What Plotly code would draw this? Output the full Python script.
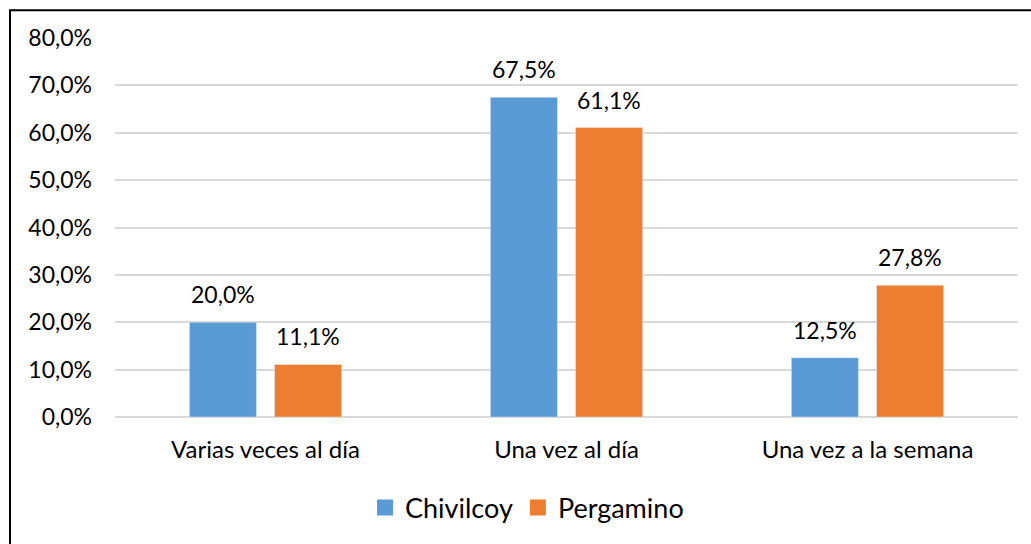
import plotly.graph_objects as go

categories = ["Varias veces al día", "Una vez al día", "Una vez a la semana"]
chivilcoy = [0.200, 0.675, 0.125]
pergamino = [0.111, 0.611, 0.278]
series_names = ["Chivilcoy", "Pergamino"]
y_ticks = [0, 0.1, 0.2, 0.3, 0.4, 0.5, 0.6, 0.7, 0.8]

BLUE = "#5B9BD5"
ORANGE = "#ED7D31"
GRID = "#D9D9D9"
FONT = "Lato"

fig = go.Figure()
for name, vals, color in ((series_names[0], chivilcoy, BLUE), (series_names[1], pergamino, ORANGE)):
    fig.add_trace(go.Bar(name=name, x=categories, y=vals, marker_color=color,
                         showlegend=False))

# legend entries with bigger square keys
for name, color in ((series_names[0], BLUE), (series_names[1], ORANGE)):
    fig.add_trace(go.Scatter(name=name, x=[None], y=[None], mode="markers",
                             marker=dict(symbol="square", size=17, color=color)))

# data labels above the bars
for vals, shift in ((chivilcoy, -42.5), (pergamino, 42.5)):
    for cat, v in zip(categories, vals):
        fig.add_annotation(
            x=cat, y=v, xref="x", yref="y",
            text=f"{v * 100:.1f}%".replace(".", ","),
            showarrow=False, yanchor="bottom", xshift=shift, yshift=12,
            font=dict(family=FONT, size=23, color="#000000"),
        )

# outer chart border
fig.add_shape(
    type="rect", xref="paper", yref="paper",
    x0=(10 - 115) / 903, x1=(1040 - 115) / 903,
    y0=(420 - 560) / 382, y1=1 + (38 - 10) / 382,
    line=dict(color="#000000", width=2), fillcolor="rgba(0,0,0,0)",
)

fig.update_layout(
    width=1031, height=544,
    barmode="group", bargap=0.434, bargroupgap=0.212,
    separators=",.",
    paper_bgcolor="white", plot_bgcolor="white",
    font=dict(family=FONT, size=23, color="#000000"),
    margin=dict(l=115, r=13, t=38, b=124),
    showlegend=True,
    legend=dict(
        orientation="h", x=(527 - 115) / 903, xanchor="center",
        y=-0.175, yanchor="top", font=dict(size=27), itemwidth=30,
        traceorder="normal",
    ),
    xaxis=dict(showgrid=False, showline=False, ticks="", ticklabelstandoff=16,
               tickfont=dict(size=24)),
    yaxis=dict(range=[0, 0.8], tickvals=y_ticks, tickformat=".1%",
               showgrid=True, gridcolor=GRID, gridwidth=1.5,
               zeroline=True, zerolinecolor=GRID, zerolinewidth=1.5,
               showline=False, ticks="", ticklabelstandoff=22,
               tickfont=dict(size=23)),
)

fig.write_html("out.html", config={"displayModeBar": False},
               post_script="document.body.style.margin='0';")
